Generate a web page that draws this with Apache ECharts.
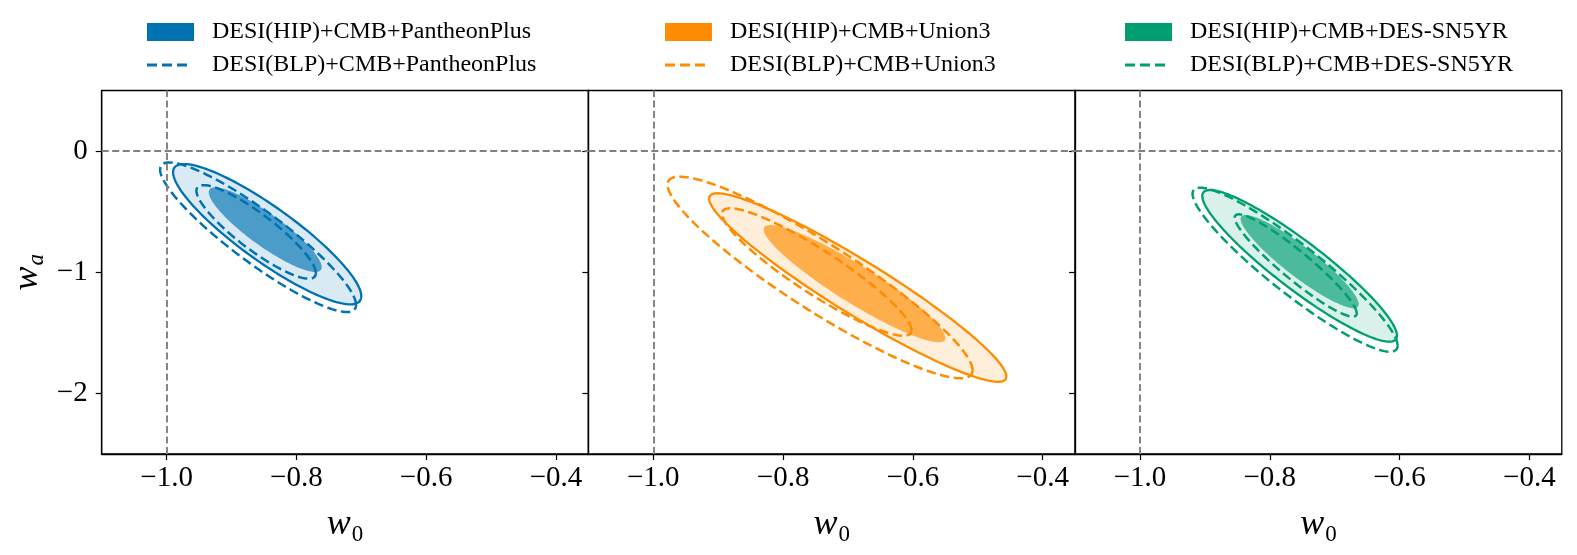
<!DOCTYPE html>
<html>
<head>
<meta charset="utf-8">
<script src="https://cdn.jsdelivr.net/npm/echarts@6/dist/echarts.min.js"></script>
<style>
  html, body { margin: 0; padding: 0; background: #fff; }
  #chart { width: 1577px; height: 555px; }
</style>
</head>
<body>
<div id="chart"></div>
<script>
// one panel per SN sample
const samples = ['PantheonPlus', 'Union3', 'DES-SN5YR'];
const colors = ['#0072B2', '#FF8C00', '#009E73'];

// contour rows:
// [w0 centre, wa centre, w0 half-extent, wa half-extent, correlation]
const hipOuter = [
  [-0.845, -0.686, 0.145, 0.579, -0.883],
  [-0.685, -1.126, 0.229, 0.778, -0.943],
  [-0.754, -0.947, 0.150, 0.626, -0.920]
];
const hipInner = [
  [-0.848, -0.649, 0.087, 0.349, -0.885],
  [-0.690, -1.094, 0.140, 0.484, -0.925],
  [-0.754, -0.912, 0.091, 0.385, -0.915]
];
const blpOuter = [
  [-0.859, -0.711, 0.151, 0.617, -0.905],
  [-0.743, -1.043, 0.235, 0.832, -0.920],
  [-0.761, -0.979, 0.158, 0.677, -0.925]
];
const blpInner = [
  [-0.862, -0.667, 0.092, 0.386, -0.880],
  [-0.748, -0.998, 0.146, 0.526, -0.913],
  [-0.760, -0.944, 0.094, 0.422, -0.935]
];

const xTicks = [-1.0, -0.8, -0.6, -0.4];
const yTicks = [-2, -1, 0];

const SERIF = 'Liberation Serif';
const gridLeft = [101.7, 588.4, 1075.1];
const legendLeft = [147, 665, 1125];

function rgba(hex, a) {
  const n = parseInt(hex.slice(1), 16);
  return 'rgba(' + (n >> 16) + ',' + ((n >> 8) & 255) + ',' + (n & 255) + ',' + a + ')';
}

function fmt(v, d) {
  return (v < 0 ? '\u2212' : '') + Math.abs(v).toFixed(d);
}

// points of a contour, in pixels, via the axes
function contour(api) {
  const cx = api.value(0), cy = api.value(1), sx = api.value(2), sy = api.value(3), rho = api.value(4);
  const r = Math.sqrt(1 - rho * rho);
  const pts = [];
  for (let k = 0; k <= 160; k++) {
    const t = k / 160 * 2 * Math.PI;
    pts.push(api.coord([cx + sx * Math.cos(t), cy + sy * (rho * Math.cos(t) + r * Math.sin(t))]));
  }
  return pts;
}

const mathRich = {
  i: { fontFamily: SERIF, fontStyle: 'italic', fontSize: 36, color: '#000', lineHeight: 36 },
  s: { fontFamily: SERIF, fontSize: 23, color: '#000', verticalAlign: 'top', lineHeight: 23, padding: [16, 0, 0, 1] },
  si: { fontFamily: SERIF, fontStyle: 'italic', fontSize: 23, color: '#000', verticalAlign: 'top', lineHeight: 23, padding: [16, 0, 0, 1] }
};

const grids = [], xAxes = [], yAxes = [], series = [], legends = [];
const dashIcon = 'path://M0,0h10v3h-10z M15,0h10v3h-10z M30,0h10v3h-10z';

samples.forEach((s, i) => {
  grids.push({
    left: gridLeft[i], top: 90.5, width: 486.7, height: 363.5,
    show: true, borderColor: '#000', borderWidth: 1.3, backgroundColor: 'transparent'
  });
  xAxes.push({
    type: 'value', gridIndex: i, min: -1.1, max: -0.35,
    name: '{i|w}{s|0}', nameLocation: 'middle', nameGap: 53,
    nameTextStyle: { rich: mathRich },
    axisLine: { show: true, onZero: false, lineStyle: { color: '#000', width: 1.3 } },
    axisTick: { show: true, inside: false, length: 6, customValues: xTicks, lineStyle: { color: '#000', width: 1.2 } },
    axisLabel: { customValues: xTicks, formatter: v => fmt(v, 1), margin: 10, fontFamily: SERIF, fontSize: 29, color: '#000' },
    splitLine: { show: false }
  });
  yAxes.push({
    type: 'value', gridIndex: i, min: -2.5, max: 0.5,
    name: i === 0 ? '{i|w}{si|a}' : '', nameLocation: 'middle', nameRotate: 90, nameGap: 56,
    nameTextStyle: { rich: mathRich },
    axisLine: { show: true, onZero: false, lineStyle: { color: '#000', width: 1.3 } },
    axisTick: { show: true, inside: false, length: 6, customValues: yTicks, lineStyle: { color: '#000', width: 1.2 } },
    axisLabel: { show: i === 0, customValues: yTicks, formatter: v => fmt(v, 0), margin: 14, fontFamily: SERIF, fontSize: 29, color: '#000' },
    splitLine: { show: false }
  });

  // w0 = -1, wa = 0 guides
  series.push({
    type: 'line', xAxisIndex: i, yAxisIndex: i, data: [], z: 1, silent: true,
    markLine: {
      silent: true, symbol: 'none', label: { show: false },
      lineStyle: { color: '#808080', width: 1.9, type: [7, 3.5] },
      data: [{ xAxis: -1 }, { yAxis: 0 }]
    }
  });

  const c = colors[i];
  series.push({
    type: 'custom', name: 'DESI(HIP)+CMB+' + s, xAxisIndex: i, yAxisIndex: i, z: 2,
    data: [hipOuter[i], hipInner[i]],
    itemStyle: { color: c },
    renderItem: (params, api) => {
      const outer = params.dataIndex === 0;
      return {
        type: 'polygon',
        shape: { points: contour(api) },
        style: outer
          ? { fill: rgba(c, 0.15), stroke: c, lineWidth: 2.3 }
          : { fill: rgba(c, 0.65), stroke: null }
      };
    }
  });
  series.push({
    type: 'custom', name: 'DESI(BLP)+CMB+' + s, xAxisIndex: i, yAxisIndex: i, z: 3,
    data: [blpOuter[i], blpInner[i]],
    itemStyle: { color: c },
    renderItem: (params, api) => ({
      type: 'polyline',
      shape: { points: contour(api) },
      style: { fill: null, stroke: c, lineWidth: 2.5, lineDash: [9.5, 4.5] }
    })
  });

  const txt = { fontFamily: SERIF, fontSize: 24, color: '#000' };
  legends.push({
    left: legendLeft[i], top: 20, padding: 0, itemWidth: 47, itemHeight: 18, selectedMode: false,
    data: [{ name: 'DESI(HIP)+CMB+' + s, icon: 'rect', itemStyle: { color: c, borderWidth: 0 } }],
    textStyle: Object.assign({ padding: [0, 0, 0, 13] }, txt)
  });
  legends.push({
    left: legendLeft[i], top: 53, padding: 0, itemWidth: 40, itemHeight: 3, selectedMode: false,
    data: [{ name: 'DESI(BLP)+CMB+' + s, icon: dashIcon, itemStyle: { color: c, borderWidth: 0 } }],
    textStyle: Object.assign({ padding: [0, 0, 0, 20] }, txt)
  });
});

const chart = echarts.init(document.getElementById('chart'));
chart.setOption({
  animation: false,
  backgroundColor: '#fff',
  legend: legends,
  grid: grids,
  xAxis: xAxes,
  yAxis: yAxes,
  series: series
});
</script>
</body>
</html>
